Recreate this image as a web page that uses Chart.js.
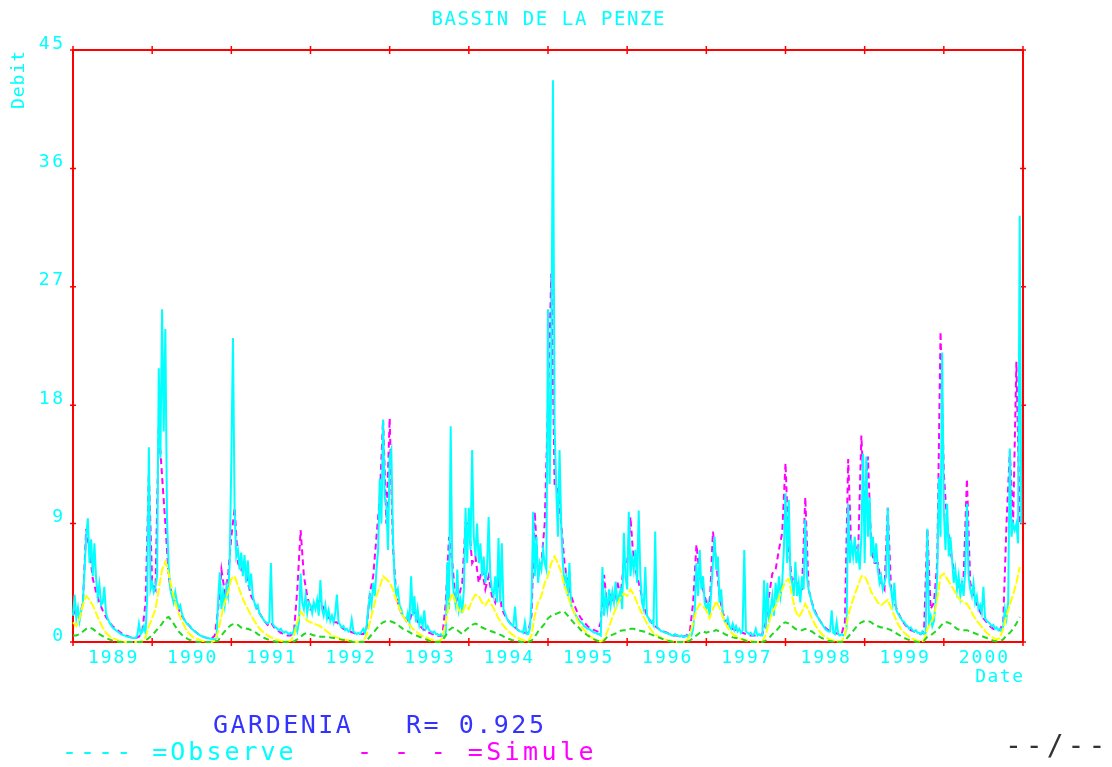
<!DOCTYPE html>
<html>
<head>
<meta charset="utf-8">
<script src="https://cdn.jsdelivr.net/npm/chart.js@4.4.1/dist/chart.umd.min.js"></script>
<style>
  body { margin: 0; background: #fff; }
  canvas { display: block; }
</style>
</head>
<body>
<canvas id="penze" width="1112" height="767"></canvas>
<script>
const annees = [1989, 1990, 1991, 1992, 1993, 1994, 1995, 1996, 1997, 1998, 1999, 2000];
const debitTicks = [0, 9, 18, 27, 36, 45];

// debit observe, 48 valeurs par an
const observe = [
  2.0, 3.6, 1.8, 2.6, 1.6, 2.4, 3.0, 5.5, 8.0, 9.4, 6.0, 7.8, 5.0, 7.5, 4.8, 3.5, 4.4, 2.8, 3.0, 4.2, 2.2, 1.8, 1.5, 1.3, 1.1, 1.0, 0.9, 0.8, 0.7, 0.6, 0.55, 0.5, 0.45, 0.4, 0.4, 0.35, 0.3, 0.3, 0.3, 0.5, 1.4, 0.6, 0.8, 1.2, 0.7, 3.5, 14.8, 4.0,
  4.5, 3.8, 4.2, 5.0, 20.8, 14.0, 25.3, 16.0, 23.8, 9.3, 5.7, 4.0, 3.5, 3.0, 3.8, 3.1, 2.6, 2.8, 2.2, 1.8, 1.6, 1.4, 1.3, 1.2, 1.0, 0.9, 0.8, 0.7, 0.6, 0.5, 0.45, 0.4, 0.35, 0.3, 0.3, 0.25, 0.25, 0.2, 0.2, 0.3, 3.2, 5.3, 2.5, 3.8, 2.8, 4.2, 3.5, 6.0,
  13.8, 23.1, 10.0, 6.5, 7.0, 5.5, 6.8, 5.0, 6.6, 4.5, 6.2, 4.0, 5.2, 3.5, 3.0, 2.6, 2.8, 2.2, 2.0, 1.8, 1.6, 1.5, 1.4, 1.5, 6.0, 1.4, 1.2, 1.1, 1.0, 0.9, 1.0, 0.8, 0.7, 0.8, 0.7, 0.6, 0.7, 0.6, 0.9, 1.2, 0.8, 1.5, 5.2, 3.0, 2.5, 3.5, 2.2, 3.0,
  2.8, 2.2, 3.0, 2.5, 3.2, 2.0, 4.7, 2.5, 2.0, 2.8, 1.8, 2.4, 1.6, 2.0, 1.5, 2.2, 3.6, 1.5, 1.3, 1.1, 1.2, 0.9, 1.0, 0.8, 0.9, 1.7, 0.8, 0.7, 0.6, 0.7, 0.6, 0.8, 1.0, 0.7, 1.2, 2.5, 3.5, 2.8, 4.5, 3.5, 5.5, 7.0, 12.4, 9.0, 16.9, 11.0, 10.5, 7.0,
  14.1, 14.6, 8.0, 4.7, 3.5, 4.0, 2.8, 2.5, 2.0, 1.8, 1.6, 2.2, 1.5, 5.0, 2.0, 3.5, 1.5, 2.5, 1.3, 1.8, 1.2, 2.4, 1.0, 1.2, 0.9, 0.8, 0.7, 0.8, 0.6, 0.6, 0.5, 0.6, 0.5, 0.4, 0.5, 6.1, 2.5, 16.4, 5.0, 3.5, 2.8, 5.5, 2.5, 3.2, 2.2, 4.0, 10.2, 6.0,
  10.2, 7.0, 14.6, 8.0, 6.5, 9.0, 6.0, 7.5, 5.0, 6.5, 4.5, 5.5, 9.5, 5.0, 4.0, 3.5, 5.0, 3.0, 7.9, 3.0, 7.5, 2.5, 2.2, 1.8, 1.6, 1.4, 1.3, 1.2, 2.7, 1.0, 0.9, 0.8, 0.8, 0.7, 1.5, 0.6, 0.6, 1.0, 3.0, 9.9, 5.0, 8.0, 4.5, 6.0, 5.5, 7.0, 6.0, 5.5,
  25.3, 12.0, 20.0, 42.7, 16.4, 11.7, 8.0, 14.6, 9.0, 6.0, 4.5, 5.0, 3.5, 6.0, 2.8, 2.5, 2.2, 2.0, 1.8, 1.6, 1.5, 1.4, 1.2, 1.1, 1.0, 1.0, 0.9, 0.8, 0.7, 0.7, 0.6, 0.6, 0.5, 5.7, 2.0, 3.5, 2.5, 4.0, 2.8, 3.8, 3.0, 4.6, 3.0, 3.5, 4.0, 2.5, 8.3, 5.0,
  4.0, 9.9, 5.0, 6.5, 5.5, 7.0, 4.5, 10.0, 5.0, 3.0, 2.5, 5.7, 2.0, 1.8, 1.5, 1.6, 1.3, 8.4, 1.2, 1.0, 0.9, 0.8, 0.8, 0.7, 0.7, 0.6, 0.6, 0.5, 0.5, 0.6, 0.5, 0.5, 0.4, 0.5, 0.4, 0.4, 0.5, 0.4, 0.6, 0.5, 1.0, 2.5, 6.0, 3.5, 7.0, 4.0, 5.0, 3.0,
  2.5, 3.0, 2.0, 4.0, 6.0, 8.0, 5.5, 6.5, 3.0, 4.0, 2.0, 1.6, 1.4, 1.8, 1.2, 1.0, 1.4, 0.9, 1.2, 0.8, 1.0, 0.7, 0.9, 7.0, 0.8, 0.7, 0.6, 0.7, 0.5, 0.6, 1.0, 0.5, 0.6, 0.5, 0.5, 4.7, 1.0, 4.5, 1.5, 2.5, 3.5, 2.0, 4.5, 3.0, 5.0, 3.5, 4.5, 7.0,
  11.3, 6.0, 10.8, 5.0, 4.5, 3.5, 6.1, 3.5, 4.5, 3.0, 5.0, 4.0, 9.3, 5.0, 4.0, 3.5, 3.0, 2.5, 2.2, 2.0, 1.8, 1.6, 1.4, 1.2, 1.0, 0.9, 0.8, 0.8, 2.4, 0.7, 0.6, 1.5, 0.6, 0.5, 0.6, 0.5, 0.6, 1.0, 10.5, 6.0, 7.5, 6.5, 8.0, 6.0, 7.0, 5.5, 8.0, 14.3,
  6.0, 14.1, 8.0, 11.0, 6.5, 8.0, 6.0, 7.5, 5.5, 4.5, 5.0, 4.0, 4.5, 5.0, 10.2, 4.5, 4.0, 3.0, 4.5, 2.5, 2.2, 2.0, 1.8, 1.6, 1.5, 1.3, 1.2, 1.0, 1.1, 0.9, 0.8, 0.9, 0.7, 0.7, 0.6, 0.8, 0.6, 0.7, 8.6, 1.5, 2.0, 1.2, 1.6, 3.0, 5.0, 12.5, 8.0, 22.0,
  10.0, 7.0, 10.5, 6.5, 8.0, 6.3, 4.5, 5.5, 4.0, 5.0, 3.5, 4.5, 3.5, 5.5, 10.5, 5.0, 4.0, 3.5, 4.5, 3.0, 3.5, 2.5, 2.8, 2.2, 4.2, 1.8, 1.6, 1.5, 1.4, 1.2, 1.3, 1.0, 1.1, 0.9, 1.0, 0.8, 1.2, 2.5, 1.8, 3.0, 14.7, 8.0, 9.0, 8.5, 9.0, 7.5, 32.4, 9.0,
];

// debit simule, 24 valeurs par an
const simule = [
  2.5, 2.0, 1.8, 3.0, 8.6, 7.0, 4.8, 3.8, 3.0, 2.4, 1.9, 1.5, 1.2, 1.0, 0.8, 0.6, 0.5, 0.4, 0.3, 0.3, 0.4, 0.8, 3.0, 12.8,
  4.5, 4.0, 16.4, 12.6, 9.0, 5.0, 3.5, 3.0, 2.5, 2.0, 1.6, 1.3, 1.0, 0.8, 0.6, 0.45, 0.35, 0.3, 0.25, 0.5, 2.5, 5.5, 3.8, 5.0,
  8.0, 10.2, 6.0, 5.5, 6.0, 4.5, 3.5, 3.0, 2.4, 2.0, 1.6, 1.3, 1.5, 1.1, 0.9, 0.7, 0.6, 0.5, 0.5, 0.8, 4.0, 8.5, 5.0, 3.5,
  2.5, 2.8, 3.0, 3.2, 2.5, 2.0, 1.7, 1.5, 1.5, 1.2, 1.0, 0.9, 0.8, 0.7, 0.6, 0.6, 0.6, 1.0, 3.7, 5.0, 8.0, 11.0, 16.9, 9.0,
  17.0, 7.2, 3.5, 2.5, 2.0, 1.7, 1.5, 2.5, 1.8, 1.3, 1.0, 0.8, 0.7, 0.6, 0.5, 0.45, 0.5, 3.0, 8.0, 6.0, 3.0, 3.5, 4.5, 9.0,
  9.0, 6.0, 6.5, 4.5, 5.5, 4.0, 5.0, 3.5, 3.0, 4.5, 2.5, 2.0, 1.6, 1.3, 1.1, 0.9, 0.8, 0.7, 0.7, 2.0, 9.9, 5.0, 6.0, 9.0,
  18.0, 28.0, 12.0, 11.6, 9.0, 6.0, 4.5, 3.5, 2.8, 2.2, 1.8, 1.5, 1.2, 1.0, 0.9, 0.8, 1.5, 5.1, 2.5, 3.5, 3.0, 4.6, 3.5, 6.0,
  6.0, 9.5, 6.0, 5.0, 4.0, 2.8, 2.0, 1.6, 1.3, 1.1, 0.9, 0.8, 0.7, 0.6, 0.5, 0.5, 0.4, 0.4, 0.5, 0.8, 3.0, 7.4, 5.0, 4.0,
  3.0, 2.5, 8.4, 6.0, 3.5, 2.2, 1.6, 1.2, 1.0, 0.9, 0.8, 0.7, 0.6, 0.5, 0.5, 0.5, 0.5, 0.6, 1.5, 3.5, 5.2, 5.5, 7.0, 8.3,
  13.6, 7.0, 4.5, 5.0, 3.8, 4.0, 11.0, 4.0, 3.0, 2.3, 1.8, 1.4, 1.1, 0.9, 0.8, 0.7, 0.6, 0.6, 1.5, 13.9, 6.7, 7.5, 6.5, 15.7,
  10.0, 14.1, 7.0, 6.0, 6.0, 4.5, 4.0, 10.2, 4.0, 3.0, 2.3, 1.8, 1.4, 1.1, 0.9, 0.8, 0.7, 0.6, 0.8, 8.6, 2.5, 3.0, 6.0, 23.6,
  12.8, 9.0, 7.0, 5.5, 4.5, 4.0, 5.0, 12.4, 4.5, 3.5, 2.8, 2.3, 1.8, 1.5, 1.2, 1.0, 0.9, 0.9, 1.5, 9.0, 14.5, 9.0, 21.3, 9.0,
];

// courbe jaune, 24 valeurs par an
const jaune = [
  1.5, 1.2, 1.8, 2.8, 3.5, 3.2, 2.8, 2.2, 1.6, 1.1, 0.7, 0.45, 0.3, 0.2, 0.1, 0.05, 0, 0, 0, 0, 0, 0.1, 0.4, 1.2,
  1.8, 2.5, 4.0, 5.5, 6.1, 5.2, 4.0, 3.0, 2.2, 1.6, 1.1, 0.7, 0.45, 0.3, 0.2, 0.1, 0.05, 0, 0, 0.1, 0.8, 2.0, 3.0, 3.8,
  4.8, 5.0, 4.3, 3.6, 3.0, 2.5, 2.0, 1.6, 1.2, 0.9, 0.7, 0.5, 0.35, 0.25, 0.15, 0.1, 0.05, 0.05, 0.1, 0.5, 1.5, 2.3, 2.0, 1.6,
  1.5, 1.4, 1.3, 1.2, 1.0, 0.8, 0.6, 0.45, 0.35, 0.25, 0.2, 0.15, 0.1, 0.05, 0, 0, 0.1, 0.5, 1.5, 2.5, 3.5, 4.2, 5.0, 4.8,
  4.5, 4.0, 3.2, 2.5, 2.0, 1.6, 1.3, 1.0, 0.8, 0.6, 0.45, 0.35, 0.25, 0.15, 0.1, 0.05, 0.3, 1.5, 3.0, 3.7, 3.0, 2.4, 2.2, 2.8,
  2.5, 3.2, 3.6, 3.5, 3.0, 2.8, 3.2, 2.8, 2.3, 1.8, 1.4, 1.1, 0.8, 0.6, 0.4, 0.3, 0.2, 0.1, 0.05, 0.5, 2.0, 3.0, 3.5, 4.5,
  5.0, 6.0, 6.5, 6.0, 5.3, 4.3, 3.5, 2.8, 2.2, 1.6, 1.2, 0.9, 0.6, 0.4, 0.2, 0.1, 0.05, 0.2, 0.8, 1.5, 2.2, 2.8, 3.4, 3.7,
  3.5, 4.0, 3.6, 3.0, 2.4, 1.9, 1.4, 1.0, 0.7, 0.5, 0.35, 0.25, 0.15, 0.1, 0.05, 0, 0, 0, 0.05, 0.5, 1.5, 2.4, 2.9, 2.7,
  2.4, 1.8, 2.5, 3.1, 2.6, 1.9, 1.3, 0.9, 0.6, 0.45, 0.3, 0.2, 0.15, 0.1, 0.05, 0, 0, 0.05, 0.5, 1.5, 2.3, 2.7, 3.4, 4.0,
  4.6, 4.8, 3.5, 2.4, 1.9, 2.3, 2.9, 2.4, 1.8, 1.3, 0.9, 0.6, 0.4, 0.25, 0.15, 0.1, 0.05, 0.05, 0.5, 2.0, 2.9, 3.6, 4.3, 5.0,
  5.0, 4.5, 3.8, 3.4, 3.0, 2.8, 3.0, 3.2, 2.6, 2.0, 1.4, 1.0, 0.7, 0.5, 0.3, 0.2, 0.1, 0.05, 0.1, 1.0, 1.4, 2.0, 3.2, 5.0,
  5.2, 4.8, 4.4, 4.0, 3.5, 3.2, 3.0, 2.9, 2.5, 2.0, 1.6, 1.3, 1.0, 0.7, 0.5, 0.3, 0.2, 0.3, 1.0, 2.0, 2.8, 3.6, 4.5, 5.7,
];

// courbe verte, 24 valeurs par an
const vert = [
  0.5, 0.5, 0.6, 0.8, 1.0, 1.1, 1.0, 0.8, 0.6, 0.45, 0.3, 0.2, 0.1, 0.05, 0, 0, 0, 0, 0, 0, 0, 0, 0.1, 0.3,
  0.5, 0.8, 1.1, 1.4, 1.8, 1.9, 1.6, 1.2, 0.8, 0.55, 0.35, 0.2, 0.1, 0.05, 0, 0, 0, 0, 0, 0.05, 0.1, 0.5, 0.8, 1.1,
  1.3, 1.4, 1.3, 1.1, 1.0, 1.0, 0.9, 0.8, 0.6, 0.45, 0.3, 0.2, 0.1, 0.05, 0, 0, 0, 0, 0, 0.05, 0.2, 0.4, 0.6, 0.7,
  0.6, 0.5, 0.5, 0.4, 0.4, 0.4, 0.35, 0.3, 0.25, 0.2, 0.15, 0.1, 0.05, 0, 0, 0, 0, 0.1, 0.4, 0.7, 1.0, 1.3, 1.5, 1.6,
  1.6, 1.5, 1.4, 1.2, 1.0, 0.9, 0.75, 0.6, 0.5, 0.4, 0.3, 0.2, 0.1, 0.05, 0, 0, 0.1, 0.5, 0.9, 1.1, 1.0, 0.8, 0.6, 0.9,
  1.1, 1.3, 1.4, 1.3, 1.1, 1.0, 0.9, 0.8, 0.7, 0.6, 0.5, 0.35, 0.25, 0.15, 0.1, 0.05, 0, 0, 0, 0.1, 0.4, 0.8, 1.1, 1.4,
  1.8, 2.0, 2.1, 2.2, 2.3, 2.3, 2.0, 1.7, 1.4, 1.2, 0.9, 0.7, 0.5, 0.35, 0.2, 0.1, 0.05, 0.1, 0.4, 0.5, 0.6, 0.7, 0.85, 0.9,
  0.9, 1.0, 1.0, 0.9, 0.85, 0.8, 0.7, 0.6, 0.5, 0.4, 0.3, 0.2, 0.1, 0.05, 0, 0, 0, 0, 0, 0.1, 0.3, 0.5, 0.7, 0.8,
  0.7, 0.8, 0.8, 0.9, 0.8, 0.7, 0.55, 0.45, 0.35, 0.3, 0.25, 0.2, 0.1, 0.05, 0, 0, 0, 0, 0.1, 0.3, 0.6, 0.8, 1.1, 1.4,
  1.5, 1.4, 1.2, 1.0, 0.9, 0.9, 1.0, 0.9, 0.8, 0.6, 0.45, 0.3, 0.2, 0.1, 0.05, 0, 0, 0, 0.1, 0.4, 0.7, 1.0, 1.3, 1.5,
  1.6, 1.6, 1.5, 1.3, 1.2, 1.1, 1.1, 1.0, 0.9, 0.75, 0.6, 0.45, 0.3, 0.2, 0.1, 0.05, 0, 0, 0.1, 0.4, 0.5, 0.7, 0.9, 1.2,
  1.5, 1.5, 1.4, 1.2, 1.0, 0.9, 0.9, 0.9, 0.8, 0.7, 0.6, 0.5, 0.4, 0.3, 0.2, 0.1, 0.05, 0.05, 0.2, 0.5, 0.7, 1.0, 1.4, 1.9,
];

const enPoints = (valeurs, parAn) => valeurs.map((v, i) => ({x: annees[0] + i / parAn, y: v}));

const MONO = `"DejaVu Sans Mono", "Liberation Mono", monospace`;

function texte(ctx, str, x, y, {taille = 17, couleur = `#00ffff`, align = `left`, espace = 2} = {}) {
  ctx.save();
  ctx.font = `${taille}px ${MONO}`;
  ctx.fillStyle = couleur;
  ctx.textBaseline = `middle`;
  ctx.letterSpacing = `${espace}px`;
  const w = ctx.measureText(str).width - espace;
  let x0 = x;
  if (align === `center`) x0 = x - w / 2;
  if (align === `right`) x0 = x - w;
  ctx.textAlign = `left`;
  ctx.fillText(str, x0, y);
  ctx.restore();
}

const cadre = {
  id: `cadre`,
  beforeDatasetsDraw(chart) {
    const {ctx, chartArea: a, scales: {x, y}} = chart;
    ctx.save();
    ctx.strokeStyle = `#ff0000`;
    ctx.lineWidth = 2;
    ctx.strokeRect(a.left, a.top, a.right - a.left, a.bottom - a.top);
    ctx.lineWidth = 1.5;
    ctx.beginPath();
    for (let an = annees[0]; an <= annees[annees.length - 1] + 1; an++) {
      const px = x.getPixelForValue(an);
      ctx.moveTo(px, a.top - 4); ctx.lineTo(px, a.top + 4);
      ctx.moveTo(px, a.bottom - 4); ctx.lineTo(px, a.bottom + 4);
    }
    debitTicks.forEach(v => {
      const py = y.getPixelForValue(v);
      ctx.moveTo(a.left - 3, py); ctx.lineTo(a.left + 3, py);
      ctx.moveTo(a.right - 3, py); ctx.lineTo(a.right + 3, py);
    });
    ctx.stroke();
    ctx.restore();
  },
  afterDraw(chart) {
    const {ctx, chartArea: a, scales: {x, y}} = chart;
    debitTicks.forEach(v => {
      texte(ctx, String(v), a.left - 10, y.getPixelForValue(v) - 6, {taille: 18, align: `right`, espace: 2.5});
    });
    annees.forEach(an => {
      texte(ctx, String(an), x.getPixelForValue(an + 0.5), a.bottom + 16, {taille: 18, align: `center`, espace: 2});
    });
    texte(ctx, `BASSIN DE LA PENZE`, (a.left + a.right) / 2, 20, {taille: 19, align: `center`, espace: 1.6});
    texte(ctx, `Date`, a.right, 677, {taille: 18, align: `right`, espace: 1.5});

    ctx.save();
    ctx.translate(19, 80);
    ctx.rotate(-Math.PI / 2);
    texte(ctx, `Debit`, 0, 0, {taille: 18, align: `center`, espace: 1});
    ctx.restore();

    texte(ctx, `GARDENIA   R= 0.925`, 213, 726, {taille: 25, couleur: `#3333ff`, espace: 2.5});
    texte(ctx, `---- =Observe`, 62, 753, {taille: 25, couleur: `#00ffff`, espace: 3});
    texte(ctx, `- - - =Simule`, 357, 753, {taille: 25, couleur: `#ff00ff`, espace: 3.4});
    texte(ctx, `--/--`, 1005, 748, {taille: 28, couleur: `#333333`, espace: 4});
  }
};

new Chart(document.getElementById(`penze`), {
  type: `line`,
  data: {
    datasets: [
      {label: `vert`, data: enPoints(vert, 24), borderColor: `#1fd81f`, borderDash: [6, 4], order: 0},
      {label: `jaune`, data: enPoints(jaune, 24), borderColor: `#ffff00`, borderDash: [9, 2], order: 1},
      {label: `Observe`, data: enPoints(observe, 48), borderColor: `#00ffff`, order: 2},
      {label: `Simule`, data: enPoints(simule, 24), borderColor: `#ff00ff`, borderDash: [6, 4], order: 3},
    ]
  },
  options: {
    responsive: false,
    animation: false,
    layout: {padding: {left: 73, right: 89, top: 50, bottom: 125}},
    elements: {
      point: {radius: 0},
      line: {borderWidth: 2, tension: 0, fill: false}
    },
    datasets: {line: {clip: 4}},
    scales: {
      x: {type: `linear`, min: annees[0], max: annees[annees.length - 1] + 1, display: false},
      y: {min: 0, max: 45, display: false}
    },
    plugins: {
      legend: {display: false},
      tooltip: {enabled: false}
    }
  },
  plugins: [cadre]
});
</script>
</body>
</html>
